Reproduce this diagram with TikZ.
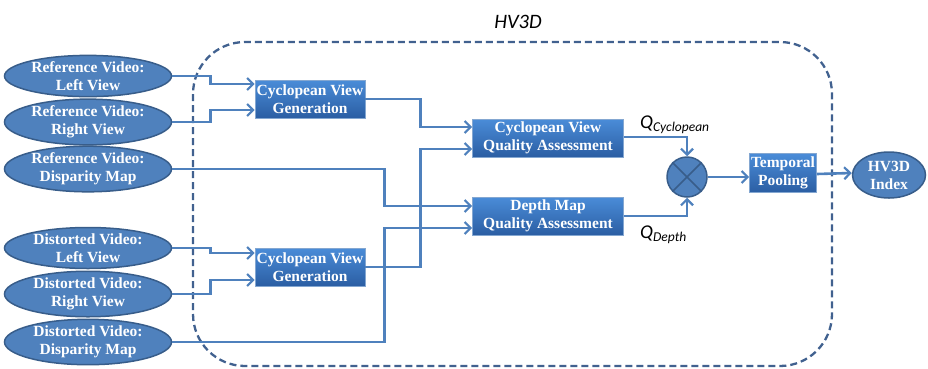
\documentclass[tikz,border=0pt]{standalone}
\usepackage{fontspec}
\setmainfont{Liberation Serif}
\newfontfamily\carl{Carlito}
\usetikzlibrary{shapes.geometric,arrows.meta,calc}
\definecolor{lineblue}{HTML}{4F81BD}
\definecolor{edgeblue}{HTML}{385D8A}
\definecolor{dashblue}{HTML}{41618F}
\definecolor{boxtop}{HTML}{4A8CD8}
\definecolor{boxbot}{HTML}{2B5EA3}
\begin{document}
\begin{tikzpicture}[x=1pt,y=-1pt,
  src/.style={ellipse,draw=edgeblue,line width=1.5pt,fill=lineblue,minimum width=167pt,minimum height=40pt,inner sep=0pt,
    text=white,font=\fontsize{15.5}{18}\selectfont\bfseries,align=center},
  procbox/.style={rectangle,draw=lineblue!70!white,line width=0.6pt,top color=boxtop,bottom color=boxbot,inner sep=0pt,
    text=white,font=\fontsize{15.5}{18}\selectfont\bfseries,align=center},
  conn/.style={draw=lineblue,line width=2.6pt,-{Straight Barb[length=6pt,width=12pt,line width=2.2pt]}},
]
\useasboundingbox (0,0) rectangle (928,368);
% frame
\draw[dashblue,line width=2.3pt,dash pattern=on 7pt off 4pt,rounded corners=52pt] (193,42) rectangle (832,366);
\node[font=\carl\itshape\fontsize{20.5}{24}\selectfont,anchor=base] (title) at (518,28) {HV3D};
% sources
\node[src] (rl) at (88,76) {Reference Video:\\Left View};
\node[src] (rr) at (88,122) {Reference Video:\\Right View};
\node[src] (rd) at (88,169) {Reference Video:\\Disparity Map};
\node[src] (dl) at (88,248) {Distorted Video:\\Left View};
\node[src] (dr) at (88,294) {Distorted Video:\\Right View};
\node[src] (dd) at (88,342) {Distorted Video:\\Disparity Map};
% boxes
\node[procbox,minimum width=110pt,minimum height=38pt] (cg1) at (310,99) {Cyclopean View\\Generation};
\node[procbox,minimum width=110pt,minimum height=38pt] (cg2) at (310,267) {Cyclopean View\\Generation};
\node[procbox,minimum width=151pt,minimum height=38pt] (cq) at (548,138) {Cyclopean View\\Quality Assessment};
\node[procbox,minimum width=151pt,minimum height=38pt] (dq) at (548,216) {Depth Map\\Quality Assessment};
\node[circle,draw=edgeblue,line width=1.5pt,fill=lineblue,minimum size=40pt,inner sep=0pt] (mul) at (687,177) {};
\draw[edgeblue,line width=1.5pt] (mul.north west) -- (mul.south east) (mul.north east) -- (mul.south west);
\node[procbox,minimum width=67pt,minimum height=39pt] (tp) at (783,173) {Temporal\\Pooling};
\node[src,minimum width=73pt,minimum height=46pt] (hv) at (889,175) {HV3D\\Index};
% labels
\node[anchor=base west,inner sep=0pt,font=\carl\itshape\fontsize{19.5}{22}\selectfont] (qc) at (640,128) {Q\raisebox{-0.35ex}{\fontsize{13.5}{15}\selectfont Cyclopean}};
\node[anchor=base west,inner sep=0pt,font=\carl\itshape\fontsize{19.5}{22}\selectfont] (qd) at (640,238) {Q\raisebox{-0.35ex}{\fontsize{13.5}{15}\selectfont Depth}};
% connectors
\draw[conn] (rl.east) -- ++(38,0) |- ([yshift=15pt]cg1.west);
\draw[conn] (rr.east) -- ++(38,0) |- ([yshift=-11pt]cg1.west);
\draw[conn] (dl.east) -- ++(38,0) |- ([yshift=14pt]cg2.west);
\draw[conn] (dr.east) -- ++(38,0) |- ([yshift=-13pt]cg2.west);
\draw[conn] (cg1.east) -- ++(55,0) |- ([yshift=11pt]cq.west);
\draw[conn] (cg2.east) -- ++(55,0) |- ([yshift=-11pt]cq.west);
\draw[conn] (rd.east) -- ++(212,0) |- ([yshift=10pt]dq.west);
\draw[conn] (dd.east) -- ++(212,0) |- ([yshift=-12pt]dq.west);
\draw[conn] ([yshift=1pt]cq.east) -| (mul.north);
\draw[conn] (dq.east) -| (mul.south);
\draw[conn] (mul.east) -- (tp.west |- mul.east);
\draw[conn] ([yshift=-1pt]tp.east) -- (hv.west |- tp.east);
\end{tikzpicture}
\end{document}
